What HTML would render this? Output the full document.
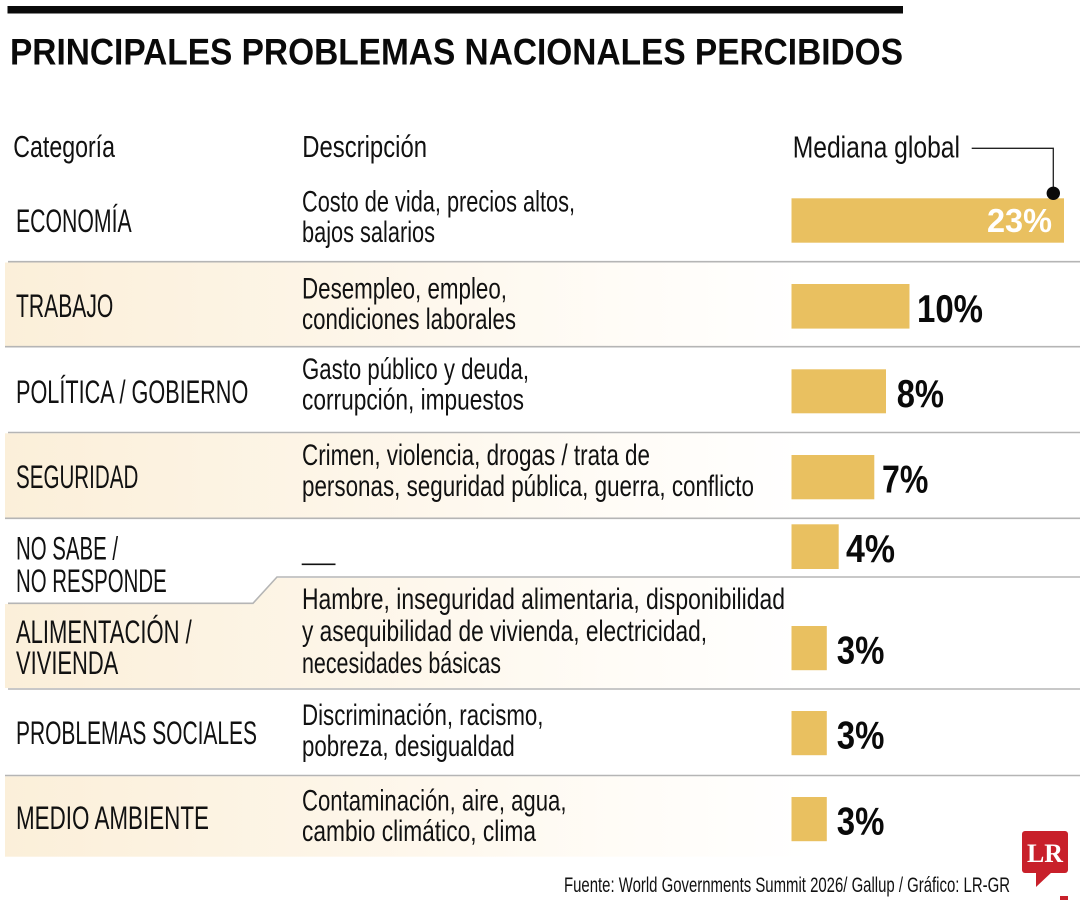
<!DOCTYPE html>
<html><head><meta charset="utf-8"><style>
html,body{margin:0;padding:0;background:#fff;}
svg{display:block;}
.cat{font-family:"Liberation Sans Narrow","Liberation Sans",sans-serif;font-size:32px;fill:#111;}
.desc{font-family:"Liberation Sans Narrow","Liberation Sans",sans-serif;font-size:29.5px;fill:#111;}
.hdr{font-family:"Liberation Sans Narrow","Liberation Sans",sans-serif;font-size:31px;fill:#111;}
.pct{font-family:"Liberation Sans Narrow","Liberation Sans",sans-serif;font-size:39px;font-weight:bold;fill:#0a0a0a;}
</style></head><body>
<svg width="1080" height="900" viewBox="0 0 1080 900" xmlns="http://www.w3.org/2000/svg">
<defs>
<linearGradient id="g" x1="0" y1="0" x2="1080" y2="0" gradientUnits="userSpaceOnUse">
<stop offset="0" stop-color="#fbefd9"/>
<stop offset="0.3" stop-color="#fdf5e7"/>
<stop offset="0.58" stop-color="#fffcf7"/>
<stop offset="0.75" stop-color="#ffffff"/>
</linearGradient>
</defs>
<rect width="1080" height="900" fill="#fff"/>
<!-- top bar -->
<rect x="7.5" y="6" width="895.5" height="7.5" fill="#0a0a0a"/>
<text x="10" y="64.5" font-family="'Liberation Sans',sans-serif" font-weight="bold" font-size="37" fill="#0a0a0a" textLength="893" lengthAdjust="spacingAndGlyphs">PRINCIPALES PROBLEMAS NACIONALES PERCIBIDOS</text>

<!-- shaded rows -->
<rect x="5" y="262.5" width="1075" height="83.5" fill="url(#g)"/>
<rect x="5" y="433.3" width="1075" height="84.2" fill="url(#g)"/>
<polygon points="5,604 253,604 277,578 1080,578 1080,688 5,688" fill="url(#g)"/>
<rect x="5" y="776.3" width="1075" height="80.4" fill="url(#g)"/>

<!-- separators -->
<g stroke="#b5b5b5" stroke-width="1.6" fill="none">
<line x1="8" y1="261.7" x2="1080" y2="261.7"/>
<line x1="5" y1="346.7" x2="1080" y2="346.7"/>
<line x1="8" y1="432.5" x2="1080" y2="432.5"/>
<line x1="5" y1="518.3" x2="1080" y2="518.3"/>
<polyline points="8,603.3 253,603.3 277,577 1080,577"/>
<line x1="8" y1="689" x2="1080" y2="689"/>
<line x1="5" y1="775.5" x2="1080" y2="775.5"/>
</g>

<!-- headers -->
<text class="hdr" x="13.3" y="157" textLength="101.7" lengthAdjust="spacingAndGlyphs">Categoría</text>
<text class="hdr" x="302.3" y="157" textLength="124.7" lengthAdjust="spacingAndGlyphs">Descripción</text>
<text class="hdr" x="792.7" y="157.3" textLength="167.3" lengthAdjust="spacingAndGlyphs">Mediana global</text>
<polyline points="971.7,148.3 1053.3,148.3 1053.3,193" stroke="#222" stroke-width="1.3" fill="none"/>

<!-- bars -->
<g fill="#e9c060">
<rect x="791.5" y="198.3" width="272.5" height="44.4"/>
<rect x="791.5" y="284" width="118" height="44.6"/>
<rect x="791.5" y="369.3" width="94.5" height="44"/>
<rect x="791.5" y="455" width="82.8" height="44.3"/>
<rect x="791.5" y="524.3" width="47.2" height="44.7"/>
<rect x="791.5" y="626" width="35.3" height="44.2"/>
<rect x="791.5" y="711" width="35.3" height="44.2"/>
<rect x="791.5" y="797" width="35.3" height="44.2"/>
</g>
<circle cx="1053.3" cy="193.3" r="6.7" fill="#0a0a0a"/>

<!-- percents -->
<text class="pct" x="987" y="232" style="font-size:33px;fill:#fff" textLength="65" lengthAdjust="spacingAndGlyphs">23%</text>
<text class="pct" x="917" y="321.8" textLength="66" lengthAdjust="spacingAndGlyphs">10%</text>
<text class="pct" x="896.7" y="407" textLength="47.3" lengthAdjust="spacingAndGlyphs">8%</text>
<text class="pct" x="882" y="492.7" textLength="46.3" lengthAdjust="spacingAndGlyphs">7%</text>
<text class="pct" x="846" y="562" textLength="49" lengthAdjust="spacingAndGlyphs">4%</text>
<text class="pct" x="836.8" y="663.7" textLength="47.6" lengthAdjust="spacingAndGlyphs">3%</text>
<text class="pct" x="836.8" y="748.7" textLength="47.6" lengthAdjust="spacingAndGlyphs">3%</text>
<text class="pct" x="836.8" y="834.7" textLength="47.6" lengthAdjust="spacingAndGlyphs">3%</text>

<!-- categories -->
<text class="cat" x="16" y="232" textLength="115.7" lengthAdjust="spacingAndGlyphs">ECONOMÍA</text>
<text class="cat" x="16" y="317" textLength="97.3" lengthAdjust="spacingAndGlyphs">TRABAJO</text>
<text class="cat" x="16" y="403" textLength="232.3" lengthAdjust="spacingAndGlyphs">POLÍTICA / GOBIERNO</text>
<text class="cat" x="16" y="488" textLength="122.3" lengthAdjust="spacingAndGlyphs">SEGURIDAD</text>
<text class="cat" x="16" y="559.5" textLength="102" lengthAdjust="spacingAndGlyphs">NO SABE /</text>
<text class="cat" x="16" y="592" textLength="150.7" lengthAdjust="spacingAndGlyphs">NO RESPONDE</text>
<text class="cat" x="16" y="643" textLength="175.7" lengthAdjust="spacingAndGlyphs">ALIMENTACIÓN /</text>
<text class="cat" x="16" y="674" textLength="102.3" lengthAdjust="spacingAndGlyphs">VIVIENDA</text>
<text class="cat" x="16" y="744" textLength="241" lengthAdjust="spacingAndGlyphs">PROBLEMAS SOCIALES</text>
<text class="cat" x="16" y="829" textLength="193" lengthAdjust="spacingAndGlyphs">MEDIO AMBIENTE</text>

<!-- descriptions -->
<text class="desc" x="302" y="211.5" textLength="273" lengthAdjust="spacingAndGlyphs">Costo de vida, precios altos,</text>
<text class="desc" x="302" y="242" textLength="133" lengthAdjust="spacingAndGlyphs">bajos salarios</text>
<text class="desc" x="302" y="298.5" textLength="205" lengthAdjust="spacingAndGlyphs">Desempleo, empleo,</text>
<text class="desc" x="302" y="329" textLength="214" lengthAdjust="spacingAndGlyphs">condiciones laborales</text>
<text class="desc" x="302" y="379" textLength="227" lengthAdjust="spacingAndGlyphs">Gasto público y deuda,</text>
<text class="desc" x="302" y="409.5" textLength="222" lengthAdjust="spacingAndGlyphs">corrupción, impuestos</text>
<text class="desc" x="302" y="465" textLength="348" lengthAdjust="spacingAndGlyphs">Crimen, violencia, drogas / trata de</text>
<text class="desc" x="302" y="496" textLength="452" lengthAdjust="spacingAndGlyphs">personas, seguridad pública, guerra, conflicto</text>
<line x1="301.7" y1="564.3" x2="335.5" y2="564.3" stroke="#111" stroke-width="1.6"/>
<text class="desc" x="302" y="609" textLength="483" lengthAdjust="spacingAndGlyphs">Hambre, inseguridad alimentaria, disponibilidad</text>
<text class="desc" x="302" y="641" textLength="405" lengthAdjust="spacingAndGlyphs">y asequibilidad de vivienda, electricidad,</text>
<text class="desc" x="302" y="673" textLength="199" lengthAdjust="spacingAndGlyphs">necesidades básicas</text>
<text class="desc" x="302" y="725" textLength="241.5" lengthAdjust="spacingAndGlyphs">Discriminación, racismo,</text>
<text class="desc" x="302" y="756" textLength="212.7" lengthAdjust="spacingAndGlyphs">pobreza, desigualdad</text>
<text class="desc" x="302" y="810.7" textLength="264.5" lengthAdjust="spacingAndGlyphs">Contaminación, aire, agua,</text>
<text class="desc" x="302" y="841" textLength="234" lengthAdjust="spacingAndGlyphs">cambio climático, clima</text>

<!-- footer -->
<text x="564" y="892" font-family="'Liberation Sans Narrow','Liberation Sans',sans-serif" font-size="21.5" fill="#111" textLength="446" lengthAdjust="spacingAndGlyphs">Fuente: World Governments Summit 2026/ Gallup / Gráfico: LR-GR</text>

<!-- logo -->
<rect x="1022" y="831" width="46" height="42" rx="3" fill="#c8202a"/>
<polygon points="1036,871 1053,871 1036,887" fill="#c8202a"/>
<text x="1045" y="862" text-anchor="middle" font-family="'Liberation Serif',serif" font-weight="bold" font-size="26" fill="#fff" textLength="36" lengthAdjust="spacingAndGlyphs">LR</text>
<rect x="1060" y="896" width="8" height="4" fill="#c8202a"/>
</svg>
</body></html>
